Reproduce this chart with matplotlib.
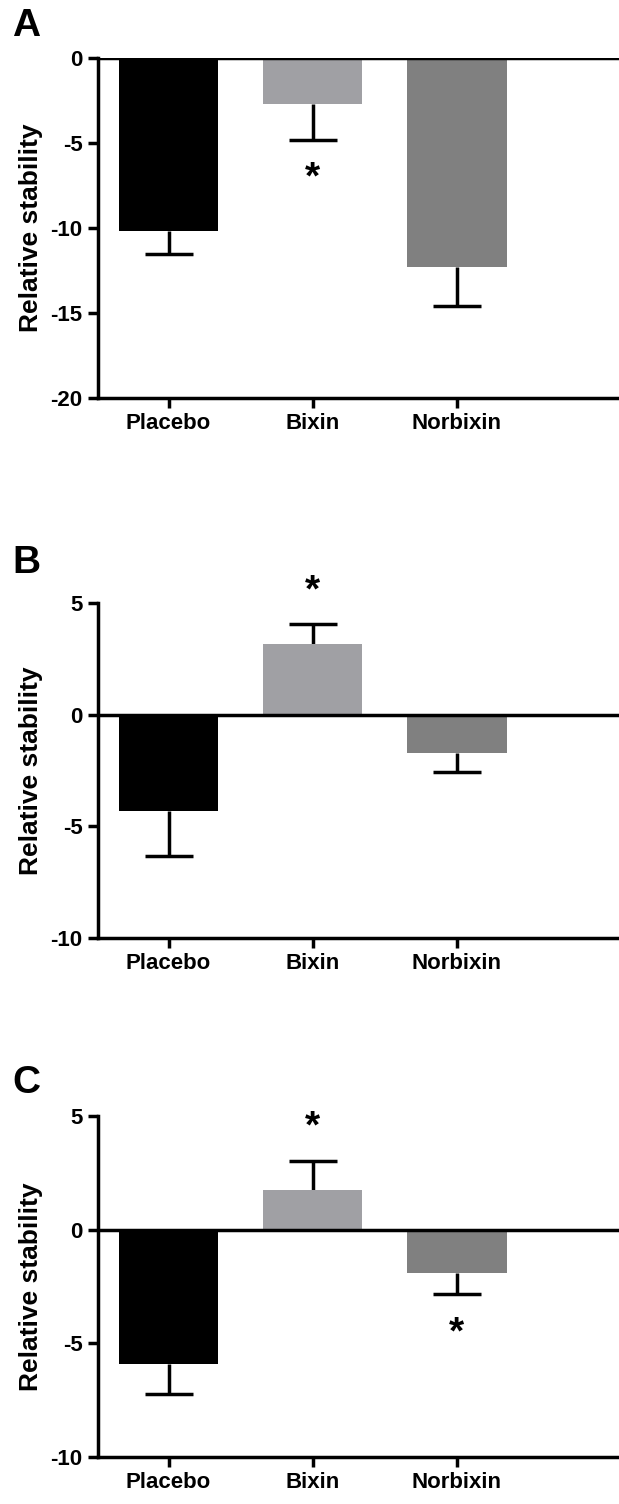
import matplotlib.pyplot as plt

plt.rcParams['font.family'] = ['Liberation Sans', 'DejaVu Sans']
plt.rcParams['font.weight'] = 'bold'

categories = ["Placebo", "Bixin", "Norbixin"]
bar_colors = ["#000000", "#a0a0a4", "#808080"]

# panel A
a_means = [-10.2, -2.7, -12.3]
a_errs = [1.3, 2.1, 2.3]
a_stars = [None, -7.1, None]

# panel B
b_means = [-4.3, 3.15, -1.72]
b_errs = [2.05, 0.9, 0.86]
b_stars = [None, 5.5, None]

# panel C
c_means = [-5.9, 1.76, -1.91]
c_errs = [1.35, 1.25, 0.92]
c_stars = [None, 4.5, -4.55]

panels = [
    ("A", a_means, a_errs, a_stars, (-20, 0), [-20, -15, -10, -5, 0]),
    ("B", b_means, b_errs, b_stars, (-10, 5), [-10, -5, 0, 5]),
    ("C", c_means, c_errs, c_stars, (-10, 5), [-10, -5, 0, 5]),
]

# axes boxes in figure pixels (top, bottom)
boxes = [(58, 398), (603, 938), (1116, 1457)]
letter_y = [26, 563, 1083]

W, H = 619, 1504
fig = plt.figure(figsize=(W / 100, H / 100), dpi=100)

lw = 2.5
for (letter, means, errs, stars, ylim, yticks), (top, bot), ly in zip(panels, boxes, letter_y):
    left = 98 / W
    ax = fig.add_axes([left, 1 - bot / H, 1.0 - left, (bot - top) / H])
    x = list(range(len(categories)))
    lower = [e if m < 0 else 0 for m, e in zip(means, errs)]
    upper = [e if m > 0 else 0 for m, e in zip(means, errs)]
    ax.bar(x, means, width=0.69, color=bar_colors, zorder=2)
    ax.errorbar(x, means, yerr=[lower, upper], fmt="none", ecolor="black",
                elinewidth=lw, capsize=0, zorder=1)
    # one-sided caps, only at the far end of each bar
    ends = [m - e if m < 0 else m + e for m, e in zip(means, errs)]
    ax.plot(x, ends, ls="none", marker="_", markersize=35,
            markeredgewidth=lw, color="black", zorder=1)
    ax.axhline(0, color="black", lw=lw, zorder=3)
    for xi, s in zip(x, stars):
        if s is not None:
            ax.text(xi, s, "*", ha="center", va="center", fontsize=28,
                    fontweight="bold")
    ax.set_xlim(-0.49, 3.125)
    ax.set_ylim(*ylim)
    ax.set_yticks(yticks)
    ax.set_yticklabels([str(t) for t in yticks])
    ax.set_xticks(x)
    ax.set_xticklabels(categories)
    for side in ["top", "right"]:
        ax.spines[side].set_visible(False)
    for side in ["left", "bottom"]:
        ax.spines[side].set_linewidth(lw)
    ax.tick_params(axis="both", direction="out", length=7, width=lw,
                   labelsize=16, pad=4)
    ax.set_ylabel("Relative stability", fontsize=19, fontweight="bold")
    ax.yaxis.set_label_coords(-0.106, 0.5)
    fig.text(12 / W, 1 - ly / H, letter, fontsize=28, fontweight="bold",
             ha="left", va="center")

fig.savefig("out.png", dpi=100)
